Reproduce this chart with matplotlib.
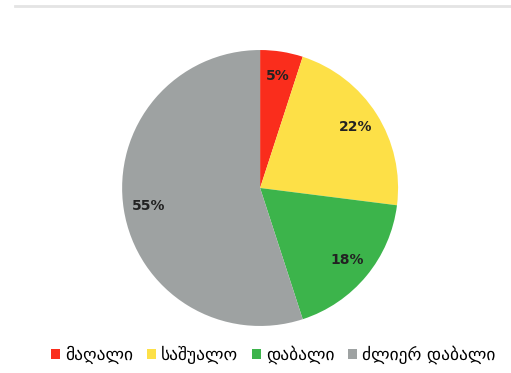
import matplotlib.pyplot as plt
from matplotlib.patches import Patch

labels = ['მაღალი', 'საშუალო', 'დაბალი', 'ძლიერ დაბალი']
values = [5, 22, 18, 55]
colors = ['#fa2d1c', '#fde047', '#3cb44b', '#9ea2a2']

fig = plt.figure(figsize=(5.11, 3.73), dpi=100)
ax = fig.add_axes([0.239, 0.126, 0.54, 0.74])

wedges, texts, autotexts = ax.pie(values, colors=colors, startangle=90, counterclock=False,
                                  autopct='%d%%', pctdistance=0.82,
                                  textprops={'fontsize': 10, 'color': '#222222', 'fontweight': 'bold'})
ax.set_xlim(-1.0, 1.0)
ax.set_ylim(-1.0, 1.0)
ax.set_aspect('equal')

# faint frame line at the top, like the source screenshot
fig.add_artist(plt.Line2D([0.03, 1.0], [0.985, 0.985], color='#e4e4e4', lw=2))

handles = [Patch(facecolor=c, edgecolor='none') for c in colors]
fig.legend(handles, labels, loc='center', bbox_to_anchor=(0.535, 0.048), ncol=4, frameon=False,
           fontsize=12.5, handlelength=0.5, handleheight=0.5, handletextpad=0.3, columnspacing=0.8)

fig.savefig('out.png', dpi=100)
